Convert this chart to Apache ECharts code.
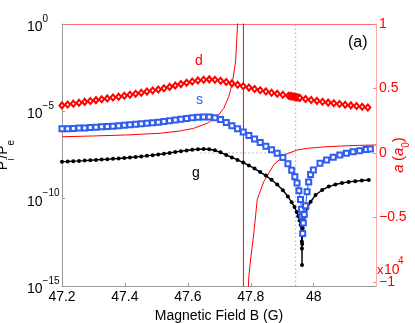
<!DOCTYPE html>
<html><head><meta charset="utf-8">
<script src="https://cdn.jsdelivr.net/npm/echarts@6/dist/echarts.min.js"></script>
<style>html,body{margin:0;padding:0;background:#fff}#c{width:415px;height:323px}</style>
</head><body><div id="c"></div>
<script>
// ---- data ----
const xTickValues = [47.2, 47.4, 47.6, 47.8, 48];
const rightTickValues = [-1, -0.5, 0, 0.5, 1];

// d : red diamonds (P_i/P_e)
const dB = [47.200,47.218,47.236,47.254,47.272,47.290,47.308,47.326,47.344,47.362,
  47.380,47.398,47.416,47.434,47.452,47.470,47.488,47.506,47.524,47.542,
  47.560,47.578,47.596,47.614,47.632,47.650,47.668,47.686,47.704,47.722,
  47.740,47.758,47.776,47.794,47.812,47.830,47.848,47.866,47.884,47.902,
  47.920,47.926,47.930,47.934,47.938,47.942,47.946,47.950,47.956,47.974,
  47.992,48.010,48.028,48.046,48.064,48.082,48.100,48.118,48.136,48.154,48.172];
const dP = [2.19e-5,2.45e-5,2.75e-5,3.09e-5,3.47e-5,3.89e-5,4.37e-5,4.90e-5,5.50e-5,6.17e-5,
  6.92e-5,7.76e-5,8.91e-5,1.02e-4,1.17e-4,1.35e-4,1.55e-4,1.78e-4,2.09e-4,2.51e-4,
  3.02e-4,3.63e-4,4.37e-4,5.13e-4,5.89e-4,6.46e-4,6.76e-4,6.46e-4,5.62e-4,4.79e-4,
  3.98e-4,3.31e-4,2.75e-4,2.29e-4,1.91e-4,1.62e-4,1.38e-4,1.17e-4,1.02e-4,8.91e-5,
  7.76e-5,7.41e-5,7.24e-5,7.00e-5,6.76e-5,6.61e-5,6.38e-5,6.17e-5,5.89e-5,5.13e-5,
  4.47e-5,3.98e-5,3.55e-5,3.16e-5,2.88e-5,2.63e-5,2.40e-5,2.19e-5,2.00e-5,1.82e-5,1.66e-5];

// s : blue squares
const sB = [47.200,47.218,47.236,47.254,47.272,47.290,47.308,47.326,47.344,47.362,
  47.380,47.398,47.416,47.434,47.452,47.470,47.488,47.506,47.524,47.542,
  47.560,47.578,47.596,47.614,47.632,47.650,47.668,47.686,47.704,47.722,
  47.740,47.758,47.776,47.794,47.812,47.830,47.848,47.866,47.884,47.902,
  47.918,47.930,47.940,47.947,47.953,47.958,47.961,47.963,47.965,47.967,
  47.970,47.974,47.979,47.984,47.990,47.999,48.020,48.041,48.062,48.083,
  48.104,48.125,48.146,48.167,48.180];
const sP = [1.00e-6,1.02e-6,1.05e-6,1.10e-6,1.12e-6,1.17e-6,1.23e-6,1.29e-6,1.35e-6,1.41e-6,
  1.48e-6,1.58e-6,1.70e-6,1.82e-6,1.95e-6,2.09e-6,2.24e-6,2.40e-6,2.63e-6,2.88e-6,
  3.16e-6,3.47e-6,3.89e-6,4.27e-6,4.57e-6,4.79e-6,4.68e-6,4.27e-6,3.39e-6,2.29e-6,
  1.51e-6,1.00e-6,6.61e-7,4.17e-7,2.63e-7,1.62e-7,1.00e-7,6.31e-8,3.98e-8,2.29e-8,
  1.00e-8,4.17e-9,1.78e-9,7.94e-10,2.82e-10,8.91e-11,2.51e-11,1.00e-11,1.00e-12,3.98e-12,
  1.26e-11,3.98e-11,2.51e-10,8.91e-10,2.40e-9,4.37e-9,1.07e-8,1.66e-8,2.34e-8,3.16e-8,
  3.98e-8,4.79e-8,5.62e-8,6.46e-8,7.08e-8];

// g : black dots
const gB = [47.200,47.218,47.236,47.254,47.272,47.290,47.308,47.326,47.344,47.362,
  47.380,47.398,47.416,47.434,47.452,47.470,47.488,47.506,47.524,47.542,
  47.560,47.578,47.596,47.614,47.632,47.650,47.668,47.686,47.704,47.722,
  47.740,47.758,47.776,47.794,47.812,47.830,47.848,47.866,47.884,47.902,
  47.918,47.930,47.939,47.946,47.951,47.955,47.9586,47.9615,47.9623,47.9627,
  47.9629,47.9633,47.9650,47.9691,47.9723,47.9799,47.9904,48.006,48.027,48.048,
  48.069,48.090,48.111,48.132,48.153,48.175];
const gP = [1.32e-8,1.35e-8,1.41e-8,1.45e-8,1.51e-8,1.58e-8,1.66e-8,1.74e-8,1.82e-8,1.91e-8,
  2.00e-8,2.14e-8,2.29e-8,2.45e-8,2.63e-8,2.82e-8,3.09e-8,3.39e-8,3.72e-8,4.17e-8,
  4.68e-8,5.25e-8,5.75e-8,6.31e-8,6.76e-8,6.92e-8,6.76e-8,5.89e-8,4.47e-8,3.16e-8,
  2.29e-8,1.66e-8,1.17e-8,7.94e-9,5.25e-9,3.31e-9,2.09e-9,1.20e-9,6.46e-10,3.02e-10,
  1.32e-10,6.31e-11,3.31e-11,1.74e-11,1.00e-11,5.62e-12,3.09e-12,8.91e-13,3.55e-13,1.41e-13,
  1.58e-14,2.51e-13,2.00e-12,6.03e-12,1.17e-11,2.95e-11,6.76e-11,1.62e-10,3.16e-10,4.90e-10,
  6.46e-10,7.94e-10,9.12e-10,1.00e-9,1.10e-9,1.17e-9];

// scattering length a (units of 1e4 a0), right axis
const aB = [47.200,47.300,47.406,47.512,47.576,47.618,47.661,47.693,47.714,47.730,
  47.741,47.748,47.752,47.758,47.764,47.770,47.7765,47.7768,47.786,47.790,
  47.7938,47.7992,47.8097,47.8206,47.8416,47.8735,47.9107,47.950,47.980,48.030,
  48.086,48.140,48.198];
const aVal = [0.126,0.132,0.140,0.153,0.171,0.191,0.230,0.281,0.346,0.436,
  0.540,0.643,0.721,1.00,1.6,3.0,40,-40,-1.6,-1.2,
  -0.96,-0.83,-0.62,-0.36,-0.22,-0.09,-0.01,0.025,0.036,0.047,
  0.054,0.059,0.062];

// dotted guide lines
const vGuideB = [47.9426, 47.9426];
const vGuideA = [-1.031, 1];
const zeroGuideB = [47.64, 47.9426];
const zeroGuideA = [0, 0];

// ---- chart ----
const FONT = '"Liberation Sans", Arial, Helvetica, sans-serif';
const RED = '#ff0000';
const BLUE = '#2f5cf2';
const zip = (a, b) => a.map((v, i) => [v, b[i]]);

const chart = echarts.init(document.getElementById('c'), null, {renderer: 'canvas'});
const option = {
  animation: false,
  backgroundColor: '#fff',
  textStyle: {fontFamily: FONT},
  grid: {left: 62, right: 39, top: 24, bottom: 37, containLabel: false, outerBoundsMode: 'none'},
  xAxis: [{
    type: 'value', min: 47.2, max: 48.198,
    axisLine: {onZero: false, lineStyle: {color: '#9a9a9a', width: 1}},
    axisTick: {inside: true, length: 3, customValues: xTickValues, lineStyle: {color: '#9a9a9a'}},
    axisLabel: {customValues: xTickValues, color: '#000', fontSize: 14, margin: 4, fontFamily: FONT,
      formatter: v => String(Math.round(v * 10) / 10)},
    splitLine: {show: false},
    name: 'Magnetic Field B (G)', nameLocation: 'middle', nameGap: 19,
    nameTextStyle: {fontSize: 14, color: '#000', fontFamily: FONT}
  }, {
    type: 'value', position: 'top', min: 47.2, max: 48.198,
    axisLine: {onZero: false, lineStyle: {color: '#ff6a6a', width: 1}},
    axisTick: {show: false}, axisLabel: {show: false}, splitLine: {show: false}
  }],
  yAxis: [{
    type: 'log', logBase: 10, min: 1e-15, max: 1, interval: 5, position: 'left',
    axisLine: {show: true, onZero: false, lineStyle: {color: '#9a9a9a', width: 1}},
    axisTick: {show: true, inside: true, length: 3, lineStyle: {color: '#9a9a9a'}},
    minorTick: {show: false},
    splitLine: {show: false},
    axisLabel: {
      align: 'left', margin: 35, color: '#000', fontFamily: FONT,
      formatter: v => {
        const e = Math.round(Math.log10(v));
        return '{b|10}{e|' + (e < 0 ? '\u2212' + (-e) : e) + '}';
      },
      rich: {
        b: {fontSize: 14, lineHeight: 20, verticalAlign: 'bottom', fontFamily: FONT, color: '#000'},
        e: {fontSize: 10, lineHeight: 9, verticalAlign: 'top', fontFamily: FONT, color: '#000'}
      }
    },
    name: '{p|P}{sub|i}{p|/P}{sub|e}', nameLocation: 'middle', nameGap: 38, nameRotate: 90,
    nameTextStyle: {
      rich: {
        p: {fontSize: 14, lineHeight: 20, verticalAlign: 'top', fontFamily: FONT, color: '#000'},
        sub: {fontSize: 10, lineHeight: 10, verticalAlign: 'bottom', fontFamily: FONT, color: '#000'}
      }
    }
  }, {
    type: 'value', min: -1.031, max: 1, position: 'right',
    axisLine: {show: true, onZero: false, lineStyle: {color: '#ffaaaa', width: 1}},
    axisTick: {show: true, inside: true, length: 3, customValues: rightTickValues, lineStyle: {color: '#ff8080'}},
    splitLine: {show: false},
    axisLabel: {customValues: rightTickValues, color: RED, fontSize: 14, margin: 3, fontFamily: FONT,
      formatter: v => (v < 0 ? '\u2212' + String(-v) : String(v))},
    name: '{i|a} {n|(}{i|a}{sub|0}{n|)}', nameLocation: 'middle', nameGap: 15, nameRotate: 90,
    nameMoveOverlap: false,
    nameTextStyle: {
      rich: {
        i: {fontSize: 15, fontStyle: 'italic', lineHeight: 20, verticalAlign: 'top', color: RED, fontFamily: FONT},
        n: {fontSize: 15, lineHeight: 20, verticalAlign: 'top', color: RED, fontFamily: FONT},
        sub: {fontSize: 10, lineHeight: 10, verticalAlign: 'bottom', color: RED, fontFamily: FONT}
      }
    }
  }],
  series: [
    {type: 'line', name: 'zero', xAxisIndex: 0, yAxisIndex: 1, data: zip(zeroGuideB, zeroGuideA),
      symbol: 'none', lineStyle: {color: '#aaaaaa', width: 1, type: [1.5, 2.5]}, silent: true},
    {type: 'line', name: 'vguide', xAxisIndex: 0, yAxisIndex: 1, data: zip(vGuideB, vGuideA),
      symbol: 'none', lineStyle: {color: '#aaaaaa', width: 1, type: [1.5, 2.5]}, silent: true},
    {type: 'line', name: 'g', xAxisIndex: 0, yAxisIndex: 0, data: zip(gB, gP),
      symbol: 'circle', symbolSize: 4, itemStyle: {color: '#000'},
      lineStyle: {color: '#000', width: 1.4}},
    {type: 'line', name: 's', xAxisIndex: 0, yAxisIndex: 0, data: zip(sB, sP),
      symbol: 'emptyRect', symbolSize: 5, itemStyle: {color: BLUE, borderWidth: 1},
      lineStyle: {color: BLUE, width: 1}},
    {type: 'line', name: 'd', xAxisIndex: 0, yAxisIndex: 0, data: zip(dB, dP),
      symbol: 'emptyDiamond', symbolSize: [5, 6], itemStyle: {color: RED, borderWidth: 1},
      lineStyle: {color: RED, width: 1}},
    {type: 'line', name: 'a', xAxisIndex: 0, yAxisIndex: 1, data: zip(aB, aVal),
      symbol: 'none', clip: true, lineStyle: {color: RED, width: 1}}
  ],
  graphic: [
    {type: 'text', left: 195, top: 54, style: {text: 'd', fill: RED, font: '14px ' + FONT}},
    {type: 'text', left: 196, top: 93, style: {text: 's', fill: BLUE, font: '14px ' + FONT}},
    {type: 'text', left: 192, top: 166, style: {text: 'g', fill: '#000', font: '14px ' + FONT}},
    {type: 'text', left: 348, top: 35, style: {text: '(a)', fill: '#000', font: '16px ' + FONT}},
    {type: 'text', left: 377, top: 264, style: {text: 'x', fill: RED, font: '13px ' + FONT}},
    {type: 'text', left: 384, top: 263, style: {text: '10', fill: RED, font: '14px ' + FONT}},
    {type: 'text', left: 398, top: 256, style: {text: '4', fill: RED, font: '10px ' + FONT}}
  ]
};
chart.setOption(option);
</script>
</body></html>
